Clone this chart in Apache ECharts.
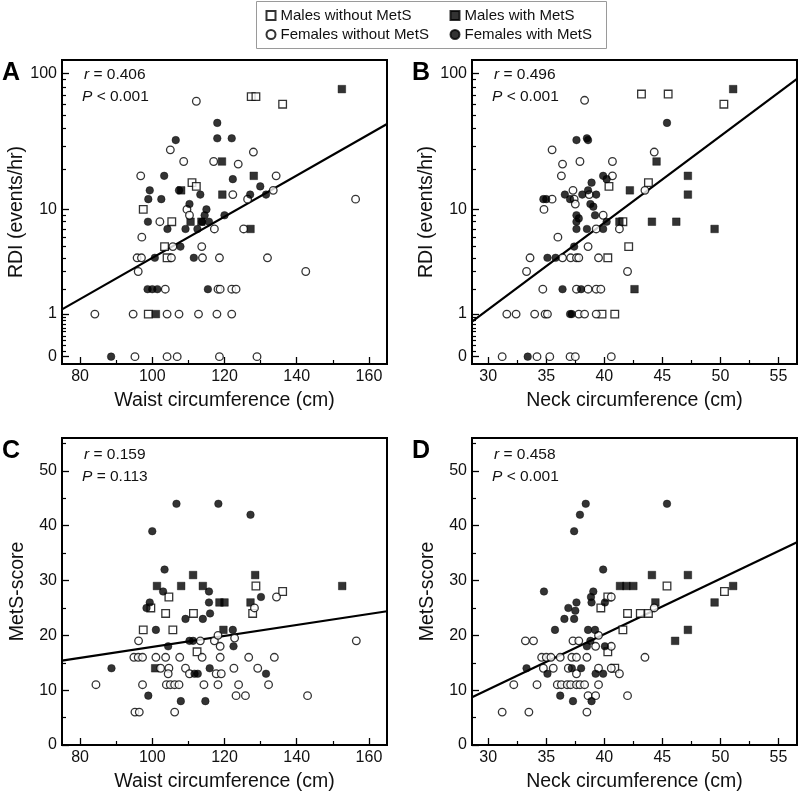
<!DOCTYPE html>
<html><head><meta charset="utf-8">
<script src="https://cdn.jsdelivr.net/npm/echarts@6/dist/echarts.min.js"></script>
<style>html,body{margin:0;padding:0;background:#fff}#c{width:800px;height:797px}</style>
</head><body><div id="c"></div>
<script>
// ---------- Tick values ----------
const rdiLabelValues = [0, 1, 10, 100];
const rdiMinorValues = [0.1,0.2,0.3,0.4,0.5,0.6,0.7,0.8,0.9,2,3,4,5,6,7,8,9,20,30,40,50,60,70,80,90];
const waistLabelValues = [80, 100, 120, 140, 160];
const waistMinorValues = [90, 110, 130, 150];
const neckLabelValues = [30, 35, 40, 45, 50, 55];
const neckMinorValues = [32.5, 37.5, 42.5, 47.5, 52.5];
const scoreLabelValues = [0, 10, 20, 30, 40, 50];
const scoreMinorValues = [5, 15, 25, 35, 45, 55];

// ---------- Panel A: waist vs RDI ----------
const aMaleNoMetS = [[111,16],[112.2,15],[97.5,10],[105.4,8],[103.4,5],[104.1,4],[98.9,1],[127.4,68],[128.7,68],[136.1,60]];
const aMaleMetS = [[152.5,77],[119.3,23],[128.1,18],[119.4,13],[127.2,7],[101,1],[108,14],[110.6,8],[113.6,8]];
const aFemaleNoMetS = [[112.2,63],[105,28],[108.7,23],[96.8,18],[102.1,8],[109.6,10],[110.3,9],[97.1,6],[105.7,5],[113.7,5],[95.8,4],[97,4],[105.3,4],[113.9,4],[96.1,3],[103.6,2],[84.1,1],[94.7,1],[104.1,1],[107.4,1],[112.8,1],[95.2,0],[104.1,0],[106.9,0],[128,27],[117,23],[123.8,22],[134.3,18],[133.5,14],[126.4,12],[122.3,13],[156.3,12],[117.2,7],[125.3,7],[118.6,4],[131.9,4],[142.5,3],[118.2,2],[118.8,2],[122,2],[123.2,2],[117.9,1],[122,1],[118.6,0],[129,0]];
const aFemaleMetS = [[106.5,33],[103.3,18],[99.3,14],[107.4,14],[102.5,12],[98.9,12],[113.3,13],[98.8,8],[104.2,7],[109.2,7],[110.3,11],[112.5,7],[107.8,5],[100.7,4],[111.5,4],[98.7,2],[100,2],[101.4,2],[88.6,0],[118,44],[118,34],[122,34],[122.3,17],[129.9,15],[127.1,13],[131.5,13],[115,10],[114.5,9],[115.7,8],[113.8,8],[120,9],[115.4,2]];
const aFit = [[75,1.16],[165,43.2]];

// ---------- Panel B: neck vs RDI ----------
const bMaleNoMetS = [[43.2,71],[45.5,71],[50.3,60],[43.8,16],[40.4,15],[41.6,8],[42.1,5],[40.3,4],[39.8,1],[40.9,1]];
const bMaleMetS = [[51.1,77],[44.5,23],[47.2,18],[42.2,14],[47.2,13],[41.3,8],[44.1,8],[46.2,8],[49.5,7],[42.6,2]];
const bFemaleNoMetS = [[31.2,0],[34.2,0],[35.3,0],[37.05,0],[37.5,0],[31.6,1],[32.4,1],[34,1],[34.9,1],[35.1,1],[34.7,2],[37.6,2],[33.3,3],[33.6,4],[36.4,4],[37.1,4],[37.6,4],[36,6],[34.8,10],[35.5,12],[37.4,12],[37.3,14],[36.3,18],[36.4,22],[35.5,28],[37.9,23],[38.3,64],[44.3,27],[40.7,23],[40.7,18],[43.5,14],[38.7,13],[37.5,11],[39.9,9],[39.3,7],[41.3,7],[38.6,5],[37.8,4],[39.5,4],[42,3],[38.6,2],[39.3,2],[39.7,2],[37.8,1],[38.3,1],[39.3,1],[40.6,0]];
const bFemaleMetS = [[33.4,0],[37.05,1],[37.2,1],[36.4,2],[35.1,4],[35.8,4],[37.4,5],[34.75,12],[35,12],[36.6,13],[37.05,12],[37.6,33],[37.6,9],[37.6,8],[37.6,7],[37.8,8.5],[45.4,44],[38.5,34],[38.6,33],[39.9,18],[40.2,17],[38.9,16],[38.6,14],[38.1,13],[39.3,13],[38.8,11],[39.05,10.5],[39.2,9],[38.5,7],[39.9,7],[40.2,8],[38,2]];
const bFit = [[28.6,0.77],[56.6,91]];

// ---------- Panel C: waist vs MetS-score ----------
const cMaleNoMetS = [[104.6,27],[99.6,25],[103.7,24],[111.4,24],[97.5,21],[105.7,21],[112.4,17],[128.7,29],[136.1,28],[127.8,24]];
const cMaleMetS = [[111.3,31],[101.3,29],[108,29],[114,29],[128.5,31],[152.6,29],[118.6,26],[120,26],[127.2,26],[119.7,21],[100.8,14]];
const cFemaleNoMetS = [[96.2,19],[113.3,19],[94.9,16],[96.1,16],[97.3,16],[101,16],[103.7,16],[107.6,16],[102.3,14],[104.6,14],[104.4,13],[109.2,14],[110.3,13],[84.4,11],[97.3,11],[103.9,11],[105,11],[106.2,11],[107.4,11],[114.3,11],[95.2,6],[96.4,6],[106.2,6],[134.4,27],[128.3,25],[117.2,19],[122.8,19.5],[118.2,20],[156.5,19],[118.8,18],[113.8,16],[118.8,16],[126.7,16],[133.8,16],[122.6,14],[129.2,14],[117.7,13],[119.1,13],[118.2,11],[123.9,11],[132.2,11],[123.2,9],[125.8,9],[143,9]];
const cFemaleMetS = [[106.7,44],[100,39],[103.4,32],[103,28],[99.3,26],[98.4,25],[109.2,23],[114,23],[101,21],[110.3,19],[111.3,19],[104.4,18],[88.7,14],[111.7,13],[112.6,13],[98.9,9],[107.9,8],[114.7,8],[118.3,44],[127.2,42],[115.7,28],[130.1,27],[115.7,26],[116,24],[122.3,21],[122.5,18],[115.9,14],[131.5,13]];
const cFit = [[75,15.4],[165,24.4]];

// ---------- Panel D: neck vs MetS-score ----------
const dMaleNoMetS = [[40.3,27],[39.7,25],[42,24],[43.1,24],[43.8,24],[41.6,21],[40.3,17],[40.9,14],[45.4,29],[50.35,28]];
const dMaleMetS = [[44.1,31],[47.2,31],[41.35,29],[41.9,29],[42.5,29],[51.1,29],[44.4,26],[49.5,26],[47.2,21],[46.1,19]];
const dFemaleNoMetS = [[33.2,19],[33.9,19],[37.3,19],[37.8,19],[34.6,16],[35,16],[35.4,16],[36.2,16],[37.2,16],[37.6,16],[34.75,14],[35.6,14],[36.9,14],[37.6,13],[32.2,11],[34.2,11],[35.95,11],[36.3,11],[36.8,11],[37.1,11],[37.6,11],[31.2,6],[33.5,6],[40.6,27],[44.3,25],[39.5,20],[39.25,18],[40.6,18],[43.5,16],[38.5,16],[39.5,14],[40.6,14],[41.3,13],[37.9,11],[38.3,11],[39.5,11],[38.6,9],[39.25,9],[42,9],[38.5,6]];
const dFemaleMetS = [[37.9,42],[37.4,39],[34.8,28],[36.9,25],[37.5,24.5],[36.56,23],[37.4,23],[35.75,21],[33.3,14],[37.2,14],[35.1,13],[36.2,9],[37.3,8],[38.4,44],[45.4,44],[39.9,32],[39.05,28],[38.85,27],[38.9,26],[40.05,26],[37.6,26],[38.6,21],[39.2,21],[38.8,19],[38.5,18],[40.05,18],[38,14],[39.25,13],[39.9,13],[38.9,8]];
const dFit = [[28.6,8.7],[56.6,37.0]];

const stats = [['0.406','<','0.001'],['0.496','<','0.001'],['0.159','=','0.113'],['0.458','<','0.001']];
const panelLetters = ['A','B','C','D'];

// ---------- Build chart ----------
const FONT = '"Liberation Sans", Arial, Helvetica, sans-serif';
const T = v => Math.log10(v + 1);          // RDI display scale: log10(RDI + 1)
const rdiFmt = v => String(Math.round(Math.pow(10, v) - 1));
const grids = [
  {left: 62, top: 60, width: 325, height: 304},
  {left: 472, top: 60, width: 325, height: 304},
  {left: 62, top: 438, width: 325, height: 307},
  {left: 472, top: 438, width: 325, height: 307}
];

function axisPair(kind, gi, min, max, labelVals, minorVals, fmt, name, nameGap) {
  const pos = kind === 'x' ? 'bottom' : 'left';
  const common = {type: 'value', gridIndex: gi, min, max, position: pos, splitLine: {show: false}, scale: true};
  const primary = Object.assign({}, common, {
    name, nameLocation: 'middle', nameGap,
    nameTextStyle: {fontFamily: FONT, fontSize: 19.5, color: '#111'},
    axisLine: {show: true, onZero: false, lineStyle: {color: '#000', width: 2}},
    axisTick: {show: true, inside: true, length: 7, customValues: labelVals, lineStyle: {color: '#000', width: 1.3}},
    axisLabel: {show: true, customValues: labelVals, formatter: fmt, fontFamily: FONT, fontSize: 16, color: '#111', margin: 5}
  });
  const minor = Object.assign({}, common, {
    axisLine: {show: false, onZero: false},
    axisTick: {show: true, inside: true, length: 4, customValues: minorVals, lineStyle: {color: '#000', width: 1.2}},
    axisLabel: {show: false}
  });
  return [primary, minor];
}

const xAxes = [], yAxes = [];
const waistRange = [75, 165], neckRange = [28.6, 56.6];
const rdiRange = [-0.052, 2.098], scoreRange = [0, 56];
const tf = vals => vals.map(T);
[
  ['x', 0, waistRange, waistLabelValues, waistMinorValues, null, 'Waist circumference (cm)'],
  ['x', 1, neckRange, neckLabelValues, neckMinorValues, null, 'Neck circumference (cm)'],
  ['x', 2, waistRange, waistLabelValues, waistMinorValues, null, 'Waist circumference (cm)'],
  ['x', 3, neckRange, neckLabelValues, neckMinorValues, null, 'Neck circumference (cm)']
].forEach(a => xAxes.push(...axisPair(a[0], a[1], a[2][0], a[2][1], a[3], a[4], a[5], a[6], 27)));
[
  [0, rdiRange, tf(rdiLabelValues), tf(rdiMinorValues), rdiFmt, 'RDI (events/hr)'],
  [1, rdiRange, tf(rdiLabelValues), tf(rdiMinorValues), rdiFmt, 'RDI (events/hr)'],
  [2, scoreRange, scoreLabelValues, scoreMinorValues, null, 'MetS-score'],
  [3, scoreRange, scoreLabelValues, scoreMinorValues, null, 'MetS-score']
].forEach(a => yAxes.push(...axisPair('y', a[0], a[1][0], a[1][1], a[2], a[3], a[4], a[5], 34)));

const openStyle = {color: '#fff', borderColor: '#000', borderWidth: 1.3};
const fillStyle = {color: '#000', borderColor: '#000', borderWidth: 0.5};
const groups = [
  ['Males without MetS', 'rect', openStyle],
  ['Males with MetS', 'rect', fillStyle],
  ['Females without MetS', 'circle', openStyle],
  ['Females with MetS', 'circle', fillStyle]
];
const panelData = [
  [aMaleNoMetS, aMaleMetS, aFemaleNoMetS, aFemaleMetS, aFit, true],
  [bMaleNoMetS, bMaleMetS, bFemaleNoMetS, bFemaleMetS, bFit, true],
  [cMaleNoMetS, cMaleMetS, cFemaleNoMetS, cFemaleMetS, cFit, false],
  [dMaleNoMetS, dMaleMetS, dFemaleNoMetS, dFemaleMetS, dFit, false]
];

const series = [];
panelData.forEach((p, gi) => {
  const conv = p[5] ? (d => [d[0], T(d[1])]) : (d => d);
  series.push({
    type: 'line', xAxisIndex: gi * 2, yAxisIndex: gi * 2, data: p[4].map(conv),
    symbol: 'none', silent: true, z: 1, lineStyle: {color: '#000', width: 2.2}, animation: false
  });
  groups.forEach((g, k) => {
    series.push({
      type: 'scatter', name: g[0], xAxisIndex: gi * 2, yAxisIndex: gi * 2,
      data: p[k].map(conv), symbol: g[1], symbolSize: 7.6, itemStyle: g[2], z: 3,
      emphasis: {disabled: true}, animation: false
    });
  });
});

const graphics = [{
  type: 'rect', z: 0, shape: {x: 256.5, y: 1.5, width: 350, height: 47},
  style: {fill: '#fff', stroke: '#9a9a9a', lineWidth: 1}
}];
grids.forEach((g, i) => {
  const off = i < 2 ? [15, 36.5] : [17, 38.7];
  graphics.push({type: 'text', x: g.left + 22, y: g.top + off[0], z: 10,
    style: {text: '{i|r} = ' + stats[i][0], fill: '#111', font: '15.5px ' + FONT, verticalAlign: 'middle', align: 'left',
      rich: {i: {fontStyle: 'italic', fontFamily: FONT, fontSize: 15.5, fill: '#111'}}}});
  graphics.push({type: 'text', x: g.left + 20, y: g.top + off[1], z: 10,
    style: {text: '{i|P} ' + stats[i][1] + ' ' + stats[i][2], fill: '#111', font: '15.5px ' + FONT, verticalAlign: 'middle', align: 'left',
      rich: {i: {fontStyle: 'italic', fontFamily: FONT, fontSize: 15.5, fill: '#111'}}}});
  graphics.push({type: 'text', x: g.left - 60, y: g.top + 13, z: 10,
    style: {text: panelLetters[i], fill: '#000', font: 'bold 25px ' + FONT, verticalAlign: 'middle', align: 'left'}});
});

const legendCommon = {orient: 'vertical', top: 8, itemGap: 4, itemWidth: 9, itemHeight: 9, z: 5,
  selectedMode: false, textStyle: {fontFamily: FONT, fontSize: 15, color: '#111'}, padding: 0};

const chart = echarts.init(document.getElementById('c'), null, {renderer: 'canvas'});
chart.setOption({
  animation: false,
  backgroundColor: '#fff',
  textStyle: {fontFamily: FONT},
  grid: grids.map(g => Object.assign({show: true, borderColor: '#000', borderWidth: 2, backgroundColor: 'transparent', containLabel: false}, g)),
  xAxis: xAxes,
  yAxis: yAxes,
  legend: [
    Object.assign({left: 265.5, data: ['Males without MetS', 'Females without MetS']}, legendCommon),
    Object.assign({left: 449.5, data: ['Males with MetS', 'Females with MetS']}, legendCommon)
  ],
  graphic: graphics,
  series
});
</script></body></html>
